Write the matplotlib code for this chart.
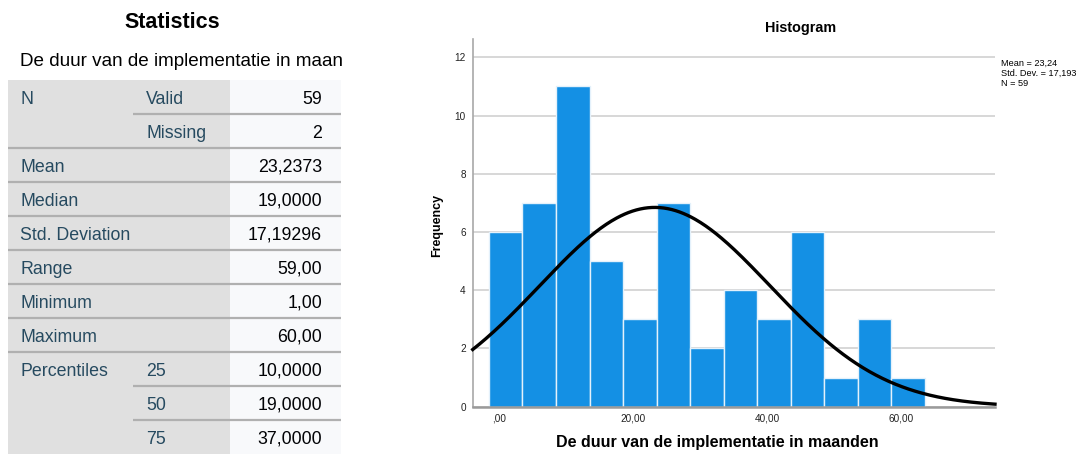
import numpy as np
import matplotlib
matplotlib.use("Agg")
import matplotlib.pyplot as plt
from matplotlib.patches import Rectangle

plt.rcParams['font.family'] = ['Liberation Sans', 'DejaVu Sans']

# ---- statistics table ----
table_title = "Statistics"
variable_name = "De duur van de implementatie in maan"
row_labels = ["N", "", "Mean", "Median", "Std. Deviation", "Range",
              "Minimum", "Maximum", "Percentiles", "", ""]
sub_labels = ["Valid", "Missing", "", "", "", "", "", "", "25", "50", "75"]
row_values = ["59", "2", "23,2373", "19,0000", "17,19296", "59,00",
              "1,00", "60,00", "10,0000", "19,0000", "37,0000"]

# ---- histogram ----
bin_counts = [6, 7, 11, 5, 3, 7, 2, 4, 3, 6, 1, 3, 1]
bin_start = -1.5
bin_width = 5.0
sample_mean = 23.2373
sample_std = 17.19296
sample_n = 59
x_ticks = [0, 20, 40, 60]
x_tick_labels = [",00", "20,00", "40,00", "60,00"]
y_ticks = [0, 2, 4, 6, 8, 10, 12]
hist_title = "Histogram"
x_label = "De duur van de implementatie in maanden"
y_label = "Frequency"
legend_lines = ["Mean = 23,24", "Std. Dev. = 17,193", "N = 59"]

W, H = 1089, 454
fig = plt.figure(figsize=(W / 100, H / 100), dpi=100)

# pixel-space overlay for the table
tab = fig.add_axes([0, 0, 1, 1])
tab.set_xlim(0, W)
tab.set_ylim(H, 0)
tab.axis("off")

label_col = "#264a60"
value_col = "#010205"
line_col = "#b0b0b0"
left, mid, split, right = 8, 133, 230, 341
top, row_h = 80, 34
cell_fs = 12.8

tab.text(172, 22, table_title, ha="center", va="center", fontsize=15.5,
         fontweight="bold", color="#000000")
tab.text(20, 62, variable_name, ha="left", va="center", fontsize=13.6,
         color="#000000")

n_rows = len(row_values)
tab.add_patch(Rectangle((left, top), split - left, n_rows * row_h,
                        facecolor="#e0e0e0", edgecolor="none"))
tab.add_patch(Rectangle((split, top), right - split, n_rows * row_h,
                        facecolor="#f8f9fb", edgecolor="none"))

for i in range(n_rows):
    yc = top + i * row_h + row_h / 2 + 2
    if row_labels[i]:
        tab.text(20, yc, row_labels[i], ha="left", va="center",
                 fontsize=cell_fs, color=label_col)
    if sub_labels[i]:
        tab.text(146, yc, sub_labels[i], ha="left", va="center",
                 fontsize=cell_fs, color=label_col)
    tab.text(322, yc, row_values[i], ha="right", va="center",
             fontsize=cell_fs, color=value_col)
    if i < n_rows - 1:
        yb = top + (i + 1) * row_h
        # rows sharing a group label get a partial separator
        x0 = mid if (not row_labels[i + 1] and sub_labels[i + 1]) else left
        tab.plot([x0, right], [yb, yb], color=line_col, lw=1.6,
                 solid_capstyle="butt")

# histogram axes
ax_l, ax_r = 472.7, 995.0
ax_t, ax_b = 39.0, 406.7
ax = fig.add_axes([ax_l / W, (H - ax_b) / H, (ax_r - ax_l) / W, (ax_b - ax_t) / H])

edges = bin_start + bin_width * np.arange(len(bin_counts) + 1)
ax.bar(edges[:-1], bin_counts, width=bin_width, align="edge",
       color="#1490e4", edgecolor="#e4f1fb", linewidth=1.0, zorder=2)

xlim = (-3.93, 74.0)
xs = np.linspace(xlim[0], xlim[1], 400)
curve = sample_n * bin_width / (sample_std * np.sqrt(2 * np.pi)) * \
    np.exp(-0.5 * ((xs - sample_mean) / sample_std) ** 2)
ax.plot(xs, curve, color="black", lw=2.4, zorder=3, clip_on=False)

ax.set_xlim(*xlim)
ax.set_ylim(0, 12.63)
ax.set_yticks(y_ticks)
ax.set_yticklabels([str(v) for v in y_ticks], fontsize=7.2, color="#222222")
ax.set_xticks(x_ticks)
ax.set_xticklabels(x_tick_labels, fontsize=7.2, color="#222222")
ax.tick_params(length=0, pad=5)
ax.yaxis.grid(True, color="#d4d4d4", lw=1.3, zorder=0)
ax.set_axisbelow(True)
for s in ("top", "right"):
    ax.spines[s].set_visible(False)
ax.spines["left"].set_color("#a8a8a8")
ax.spines["left"].set_linewidth(1.2)
ax.spines["bottom"].set_color("#9a9a9a")
ax.spines["bottom"].set_linewidth(1.8)
ax.spines["bottom"].set_zorder(4)

fig.text(801 / W, 1 - 28 / H, hist_title, ha="center", va="center",
         fontsize=10.4, fontweight="bold", color="#000000")
fig.text(717 / W, 1 - 442 / H, x_label, ha="center", va="center",
         fontsize=11.5, fontweight="bold", color="#000000")
fig.text(437 / W, 1 - 225 / H, y_label, ha="center", va="center",
         fontsize=9, fontweight="bold", rotation=90, color="#000000")
for k, line in enumerate(legend_lines):
    fig.text(1001.5 / W, 1 - (63 + k * 10.5) / H, line, ha="left",
             va="center", fontsize=6.6, color="#000000")

fig.savefig("out.png", dpi=100)
